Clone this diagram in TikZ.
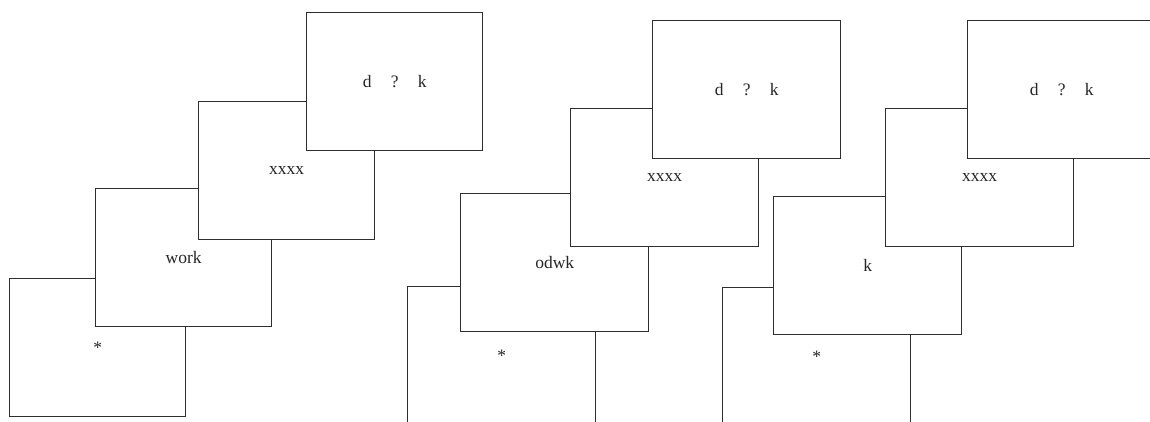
\documentclass[tikz,border=0pt]{standalone}
\usepackage{fontspec}
\setmainfont{Liberation Serif}
\newcommand{\dqk}{d\hspace{1.1em}?\hspace{1.1em}k}
\begin{document}
\begin{tikzpicture}[x=1pt,y=-1pt,
  card/.style={draw=black!82, line width=1.4pt, fill=white, rectangle, anchor=north west,
    minimum height=138pt, inner sep=0pt, text depth=0pt, yshift=0pt,
    font=\fontsize{17.5}{20}\selectfont, text=black!85},
  narrow/.style={card, minimum width=176pt},
  wide/.style={card, minimum width=188pt}]
\useasboundingbox (0,0) rectangle (1150,421);
\clip (0,0) rectangle (1150,421);
% group 1
\node[narrow] (d1) at (9,278) {*};
\node[narrow] (c1) at (95,188) {work};
\node[narrow] (b1) at (198,101) {xxxx};
\node[narrow] (a1) at (306,12) {\dqk};
% group 2
\node[wide] (d2) at (407,286) {*};
\node[wide] (c2) at (460,193) {odwk};
\node[wide] (b2) at (570,108) {xxxx};
\node[wide] (a2) at (652,20) {\dqk};
% group 3
\node[wide] (d3) at (722,287) {*};
\node[wide] (c3) at (773,196) {k};
\node[wide] (b3) at (885,108) {xxxx};
\node[wide] (a3) at (967,20) {\dqk};
\end{tikzpicture}
\end{document}
